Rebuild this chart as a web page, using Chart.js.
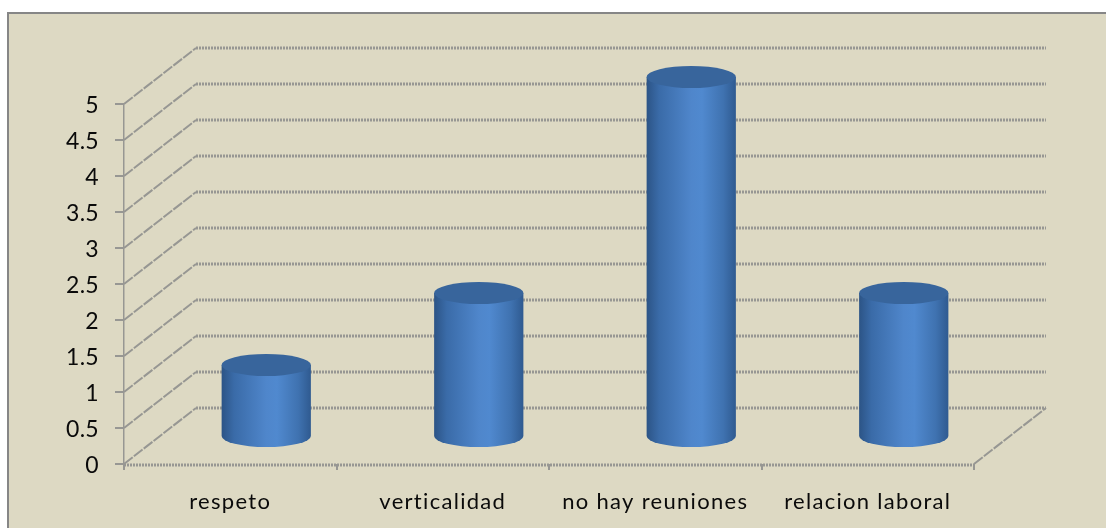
<!DOCTYPE html>
<html>
<head>
<meta charset="utf-8">
<style>
  html, body { margin: 0; padding: 0; background: #fff; }
  canvas { display: block; }
</style>
<script src="https://cdn.jsdelivr.net/npm/chart.js@4/dist/chart.umd.min.js"></script>
</head>
<body>
<canvas id="chart" width="1106" height="528"></canvas>
<script>
const categories = ['respeto', 'verticalidad', 'no hay reuniones', 'relacion laboral'];
const seriesValues = [1, 2, 5, 2];
const axisMin = 0;
const axisMax = 5;
const axisStep = 0.5;

const PANEL = '#DDD9C3';
const FRAME = '#868686';
const GRID = '#979793';
// Receding depth of the 3D box and of the bars standing in the middle of it
const WALL_DX = 72, WALL_DY = -56;
const BAR_DX = 36, BAR_DY = -27;
const CAP_RY = 11;

function hatchedLine(ctx, x1, y1, x2, y2) {
  ctx.lineWidth = 2.8;
  ctx.setLineDash([2, 1]);
  ctx.beginPath();
  ctx.moveTo(x1, y1);
  ctx.lineTo(x2, y2);
  ctx.stroke();
}

function slantLine(ctx, x1, y1, x2, y2) {
  ctx.lineWidth = 2;
  ctx.setLineDash([11, 1.5]);
  ctx.beginPath();
  ctx.moveTo(x1, y1);
  ctx.lineTo(x2, y2);
  ctx.stroke();
}

// Frame, floor, side wall and back wall behind the columns
const boxPlugin = {
  id: 'box3d',
  beforeDraw(chart) {
    const { ctx, width, height } = chart;
    ctx.save();
    ctx.fillStyle = '#fff';
    ctx.fillRect(0, 0, width, height);
    ctx.fillStyle = PANEL;
    ctx.fillRect(8, 13, width, height);
    ctx.fillStyle = FRAME;
    ctx.fillRect(7, 12, width, 2);
    ctx.fillRect(7, 12, 2, height);
    ctx.restore();
  },
  beforeDatasetsDraw(chart) {
    const { ctx, chartArea: a, scales: { y } } = chart;
    ctx.save();
    ctx.strokeStyle = GRID;
    const backRight = a.right + WALL_DX;
    y.ticks.forEach(t => {
      const py = y.getPixelForValue(t.value);
      slantLine(ctx, a.left, py, a.left + WALL_DX, py + WALL_DY);
      hatchedLine(ctx, a.left + WALL_DX, py + WALL_DY, backRight, py + WALL_DY);
    });
    // floor: front edge and right-hand slant
    const py0 = y.getPixelForValue(axisMin);
    hatchedLine(ctx, a.left, py0 + 1, a.right, py0 + 1);
    slantLine(ctx, a.right, py0, backRight, py0 + WALL_DY);
    ctx.restore();
  },
  // Cylinders sit on the bar elements' own pixel positions
  afterDatasetsDraw(chart) {
    const { ctx } = chart;
    chart.getDatasetMeta(0).data.forEach(bar => {
      const { x, y, base, width } = bar.getProps(['x', 'y', 'base', 'width'], true);
      const cx = x + BAR_DX, rx = width / 2;
      const topY = y + BAR_DY, botY = base + BAR_DY;
      const body = ctx.createLinearGradient(cx - rx, 0, cx + rx, 0);
      body.addColorStop(0, '#2C5486');
      body.addColorStop(0.14, '#3A6BA8');
      body.addColorStop(0.5, '#4F86CB');
      body.addColorStop(0.62, '#5089CF');
      body.addColorStop(0.86, '#3F72B0');
      body.addColorStop(1, '#2F5A90');
      ctx.save();
      ctx.fillStyle = body;
      ctx.beginPath();
      ctx.moveTo(cx - rx, topY);
      ctx.lineTo(cx - rx, botY);
      ctx.ellipse(cx, botY, rx, CAP_RY, 0, Math.PI, 0, true);
      ctx.lineTo(cx + rx, topY);
      ctx.closePath();
      ctx.fill();
      ctx.fillStyle = '#38659C';
      ctx.beginPath();
      ctx.ellipse(cx, topY, rx, CAP_RY, 0, 0, Math.PI * 2);
      ctx.fill();
      ctx.restore();
    });
  }
};

// Category labels are set with open tracking
function trackLabels(scale, spacing) {
  if (scale._tracked) return;
  scale._tracked = true;
  const draw = scale.drawLabels;
  scale.drawLabels = function (area) {
    this.ctx.save();
    this.ctx.letterSpacing = spacing;
    draw.call(this, area);
    this.ctx.restore();
  };
}

new Chart(document.getElementById('chart'), {
  type: 'bar',
  data: {
    labels: categories,
    datasets: [{
      data: seriesValues,
      backgroundColor: 'rgba(0,0,0,0)',
      borderWidth: 0,
      barPercentage: 0.42,
      categoryPercentage: 1
    }]
  },
  plugins: [boxPlugin],
  options: {
    responsive: false,
    animation: false,
    layout: { padding: { left: 0, top: 104, right: 132, bottom: 0 } },
    plugins: { legend: { display: false }, title: { display: false }, tooltip: { enabled: false } },
    scales: {
      x: {
        afterFit(s) { s.height = 64; trackLabels(s, '1.3px'); },
        grid: { drawOnChartArea: false, tickLength: 6, color: GRID, lineWidth: 2 },
        border: { display: false },
        ticks: {
          color: '#0A0A0A',
          padding: 19,
          maxRotation: 0,
          autoSkip: false,
          font: { family: 'Lato, Carlito, sans-serif', size: 22 }
        }
      },
      y: {
        min: axisMin,
        max: axisMax,
        afterFit(s) { s.width = 124; trackLabels(s, '0.3px'); },
        grid: { drawOnChartArea: false, tickLength: 9, color: GRID, lineWidth: 2 },
        border: { display: true, color: GRID, width: 1.5, dash: [7, 4] },
        ticks: {
          stepSize: axisStep,
          color: '#0A0A0A',
          padding: 16,
          labelOffset: 2,
          callback: v => String(v),
          font: { family: 'Lato, Carlito, sans-serif', size: 23 }
        }
      }
    }
  }
});
</script>
</body>
</html>
